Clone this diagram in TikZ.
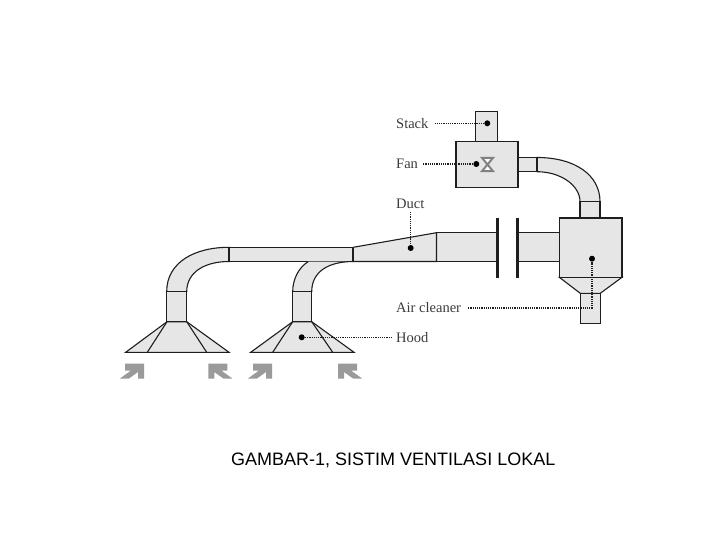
\documentclass[tikz,border=0pt]{standalone}
\usepackage{fontspec}
\setmainfont{Liberation Serif}
\newfontfamily\capfont{Liberation Sans}
\usetikzlibrary{arrows.meta,positioning,calc}
\definecolor{ductfill}{HTML}{E6E6E6}
\definecolor{ductline}{HTML}{1E1E1E}
\definecolor{labelgray}{HTML}{3C3C3C}
\definecolor{airgray}{HTML}{9A9A9A}
\tikzset{
  ductpart/.style={draw=ductline,fill=ductfill,line width=1.1pt,line join=miter},
  ductjoint/.style={draw=ductline,line width=2.2pt},
  flange/.style={draw=ductline,line width=3pt},
  hoodline/.style={draw=ductline,line width=1.1pt},
  airarrow/.style={fill=airgray,draw=none},
  partlabel/.style={font=\fontsize{14.5}{16}\selectfont,text=labelgray,inner sep=0pt},
  probedot/.style={circle,fill=black,inner sep=0pt,minimum size=6pt},
  leader/.style={draw=ductline,line width=1.2pt,densely dotted}
}
\begin{document}
\begin{tikzpicture}[x=1pt,y=-1pt]
  \useasboundingbox[fill=white] (0,0) rectangle (720,540);

  % stack and fan
  \draw[ductpart] (475.7,111.7) rectangle (497.7,141.3);
  \draw[ductpart] (518,157.5) rectangle (537,171.7);
  \draw[ductpart] (456,141.3) rectangle (518,187.7);
  \draw[draw=gray,fill=white,line width=2pt] (482,157.8) -- (493,157.8) -- (482,171.2) -- (493,171.2) -- cycle;

  % elbow into the air cleaner
  \draw[ductpart] (537,157.5) .. controls (575,157.5) and (600,175) .. (600,201.7)
    -- (580,201.7) .. controls (580,185) and (560,171.7) .. (537,171.7) -- cycle;
  \draw[ductpart] (580,201.7) rectangle (600,218);
  \draw[ductjoint] (537,157.5) -- (537,171.7);

  % air cleaner
  \draw[ductpart] (559.3,277.3) -- (580.3,293.3) -- (600.3,293.3) -- (622,277.3) -- cycle;
  \draw[ductpart] (580.3,293.3) rectangle (600.3,323.3);
  \draw[ductpart] (559.3,218) rectangle (622,277.3);

  % main duct
  \draw[ductpart] (518.3,232.7) rectangle (559.3,261.5);
  \draw[ductpart] (436.5,232.7) rectangle (497,261.5);
  \draw[ductpart] (353.3,247.3) -- (436.5,232.7) -- (436.5,261.5) -- (353.3,261.5) -- cycle;
  \draw[ductpart] (229,247.3) rectangle (353.3,261.5);
  \draw[flange] (497,217.7) -- (497,277.7);
  \draw[flange] (517.3,217.7) -- (517.3,277.7);

  % first branch
  \draw[ductpart] (229,247.3) .. controls (195,247.3) and (166.7,262) .. (166.7,291.7)
    -- (186.7,291.7) .. controls (186.7,272) and (205,261.5) .. (229,261.5) -- cycle;
  \draw[ductpart] (166.7,291.7) rectangle (186.7,321.7);
  \draw[ductpart] (167,321.7) -- (186.7,321.7) -- (229,352.3) -- (125.7,352.3) -- cycle;
  \draw[hoodline] (167,321.7) -- (147.3,352.3);
  \draw[hoodline] (186.7,321.7) -- (206.7,352.3);
  \draw[ductjoint] (229,247.3) -- (229,261.5);

  % second branch
  \draw[ductpart] (308.3,261.5) .. controls (298,268) and (292.7,280) .. (292.7,291.7)
    -- (311.7,291.7) .. controls (311.7,272) and (328,261.5) .. (353.3,261.5);
  \draw[ductpart] (292.7,291.7) rectangle (311.7,321.7);
  \draw[ductpart] (292.7,321.7) -- (311.7,321.7) -- (354,352.3) -- (250.7,352.3) -- cycle;
  \draw[hoodline] (292.7,321.7) -- (272.7,352.3);
  \draw[hoodline] (311.7,321.7) -- (332.7,352.3);
  \draw[ductjoint] (353.3,247.3) -- (353.3,261.5);

  % air going into the hoods
  \foreach \tipx/\side in {144/1,208.3/-1,272/1,338/-1}{
    \fill[airarrow,shift={(\tipx,363.5)},xscale=\side]
      (-19,0) -- (0,0) -- (0,15) -- (-6,15) -- (-6,8.5) -- (-15,15) -- (-24,15) -- (-13,7) -- (-19,7) -- cycle;
  }

  \node[probedot] (dotstack) at (487.3,123.3) {};
  \node[probedot] (dotfan) at (476.3,164) {};
  \node[probedot] (dotduct) at (410.7,248) {};
  \node[probedot] (dotcleaner) at (592,258.7) {};
  \node[probedot] (dothood) at (301.7,337.3) {};

  \node[partlabel,anchor=west] (stack) at (396,123.3) {Stack};
  \node[partlabel,anchor=west] (fan) at (396,164) {Fan};
  \node[partlabel,anchor=west] (duct) at (396,204) {Duct};
  \node[partlabel,anchor=west] (cleaner) at (396,308) {Air cleaner};
  \node[partlabel,anchor=west] (hood) at (396,337.3) {Hood};
  \node[anchor=west,inner sep=0pt,font=\capfont\fontsize{18}{20}\selectfont] (caption) at (231,460) {GAMBAR-1, SISTIM VENTILASI LOKAL};

  \draw[leader] ([xshift=6pt]stack.east) -- (dotstack);
  \draw[leader] ([xshift=5pt]fan.east) -- (dotfan);
  \draw[leader] (duct.south -| dotduct) ++(0,3) -- (dotduct);
  \draw[leader] ([xshift=7pt]cleaner.east) -- ($(cleaner.east -| dotcleaner)$) -- (dotcleaner);
  \draw[leader] (dothood) -- ([xshift=-4pt]hood.west);
\end{tikzpicture}
\end{document}
